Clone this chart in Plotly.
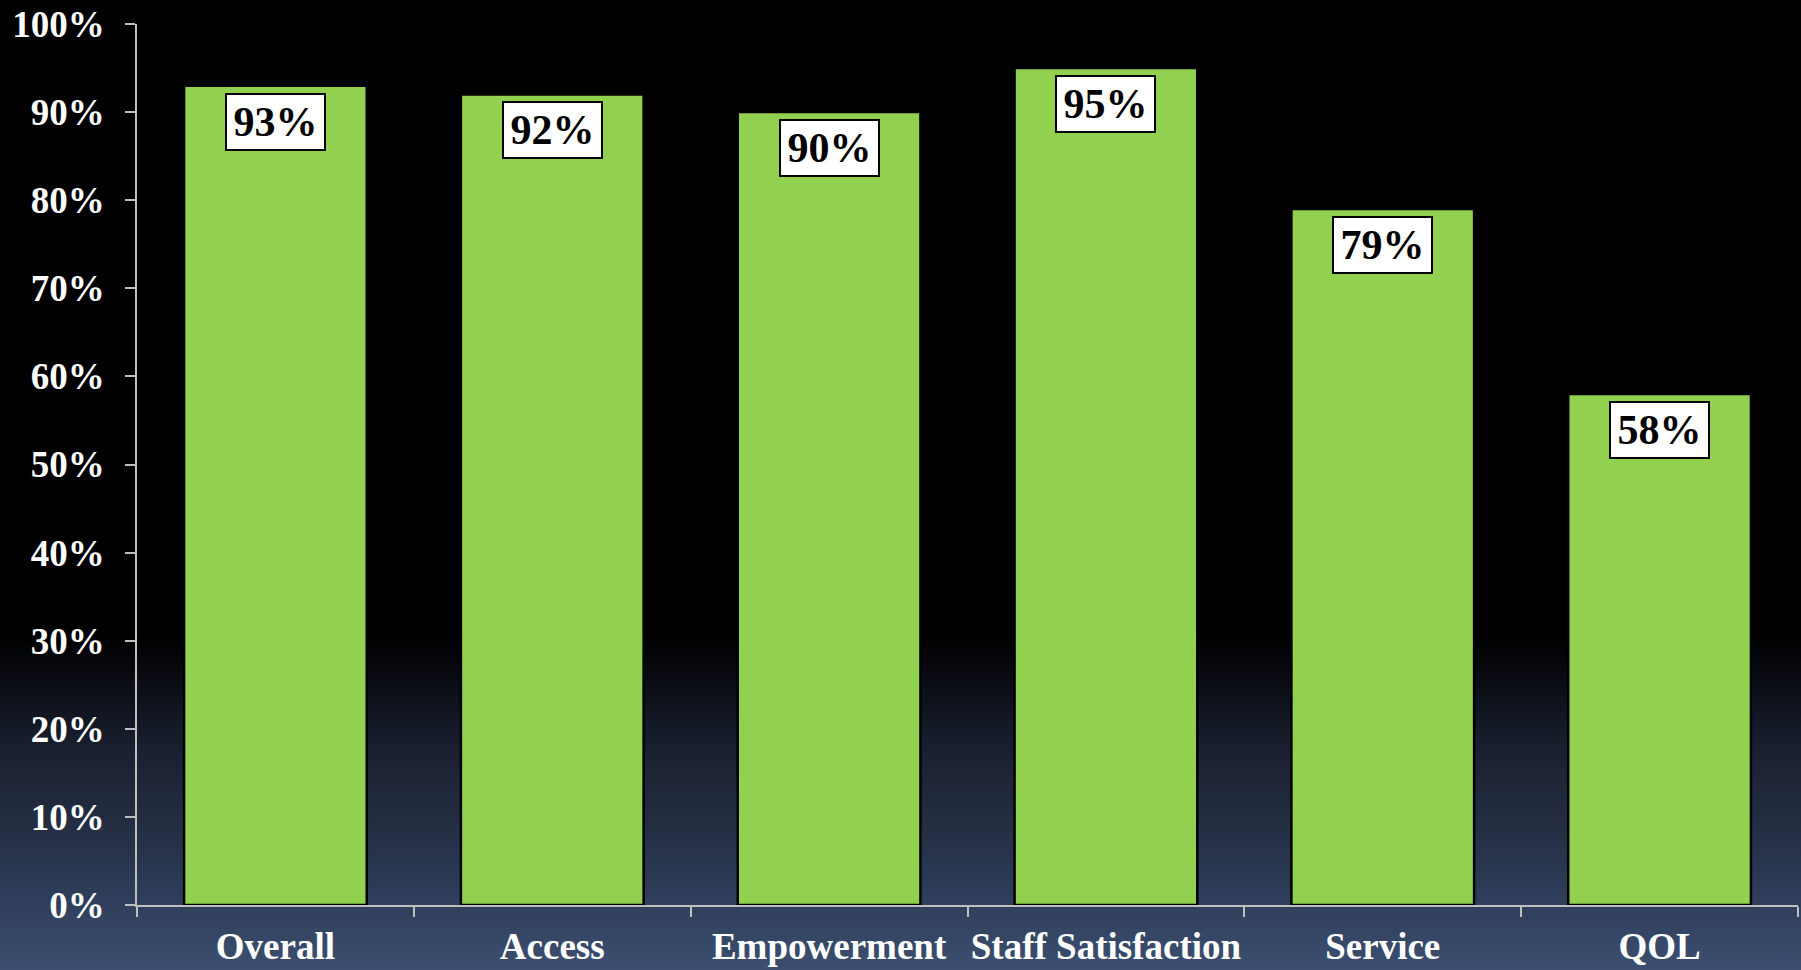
import base64
import plotly.graph_objects as go

# Survey results by domain
categories = ["Overall", "Access", "Empowerment", "Staff Satisfaction", "Service", "QOL"]
scores = [93, 92, 90, 95, 79, 58]
y_ticks = [0, 10, 20, 30, 40, 50, 60, 70, 80, 90, 100]

W, H = 1801, 970
M_L, M_R, M_T, M_B = 137, 3, 24, 65
plot_w = W - M_L - M_R
plot_h = H - M_T - M_B

SERIF = "Liberation Serif"
AXIS_GREY = "#bfbfbf"

# Black-to-slate vertical gradient behind the whole canvas
svg = f"""<svg xmlns="http://www.w3.org/2000/svg" width="{W}" height="{H}" viewBox="0 0 {W} {H}" preserveAspectRatio="none">
<defs><linearGradient id="g" x1="0" y1="0" x2="0" y2="1">
<stop offset="0" stop-color="#000000"/>
<stop offset="0.655" stop-color="#000000"/>
<stop offset="0.704" stop-color="#0a0d14"/>
<stop offset="0.773" stop-color="#1a2030"/>
<stop offset="0.842" stop-color="#232c40"/>
<stop offset="0.91" stop-color="#2c3a55"/>
<stop offset="1" stop-color="#3c4f70"/>
</linearGradient></defs>
<rect x="0" y="0" width="{W}" height="{H}" fill="url(#g)"/>
</svg>"""
bg_uri = "data:image/svg+xml;base64," + base64.b64encode(svg.encode()).decode()

fig = go.Figure(
    go.Bar(
        x=categories,
        y=scores,
        width=0.66,
        marker=dict(color="#92d050", line=dict(color="#000000", width=2.5)),
        hoverinfo="skip",
    )
)

# Boxed value labels just inside the top of each bar
for cat, val in zip(categories, scores):
    fig.add_annotation(
        x=cat,
        y=val,
        xref="x",
        yref="y",
        text=f"{val}%",
        showarrow=False,
        yanchor="top",
        yshift=-7,
        width=97,
        height=54,
        bgcolor="#ffffff",
        bordercolor="#000000",
        borderwidth=2,
        borderpad=0,
        font=dict(family=SERIF, size=42, color="#000000", weight="bold"),
    )

fig.add_layout_image(
    source=bg_uri,
    xref="paper",
    yref="paper",
    x=-M_L / plot_w,
    y=1 + M_T / plot_h,
    sizex=W / plot_w,
    sizey=H / plot_h,
    xanchor="left",
    yanchor="top",
    sizing="stretch",
    layer="below",
)

fig.update_layout(
    width=W,
    height=H,
    margin=dict(l=M_L, r=M_R, t=M_T, b=M_B, pad=0, autoexpand=False),
    paper_bgcolor="#000000",
    plot_bgcolor="rgba(0,0,0,0)",
    showlegend=False,
    bargap=0.34,
)

fig.update_xaxes(
    type="category",
    tickson="boundaries",
    tickangle=0,
    automargin=False,
    ticks="outside",
    ticklen=10,
    tickwidth=1.5,
    tickcolor=AXIS_GREY,
    showline=True,
    linecolor=AXIS_GREY,
    linewidth=1.5,
    showgrid=False,
    ticklabelstandoff=8,
    tickfont=dict(family=SERIF, size=37, color="#ffffff", weight="bold"),
)

fig.update_yaxes(
    range=[0, 100],
    tickvals=y_ticks,
    ticktext=[f"{t}%" for t in y_ticks],
    automargin=False,
    ticks="outside",
    ticklen=10,
    tickwidth=1.5,
    tickcolor=AXIS_GREY,
    showline=True,
    linecolor=AXIS_GREY,
    linewidth=1.5,
    showgrid=False,
    zeroline=False,
    ticklabelstandoff=13,
    tickfont=dict(family=SERIF, size=37, color="#ffffff", weight="bold"),
)

fig.write_html("out.html")
